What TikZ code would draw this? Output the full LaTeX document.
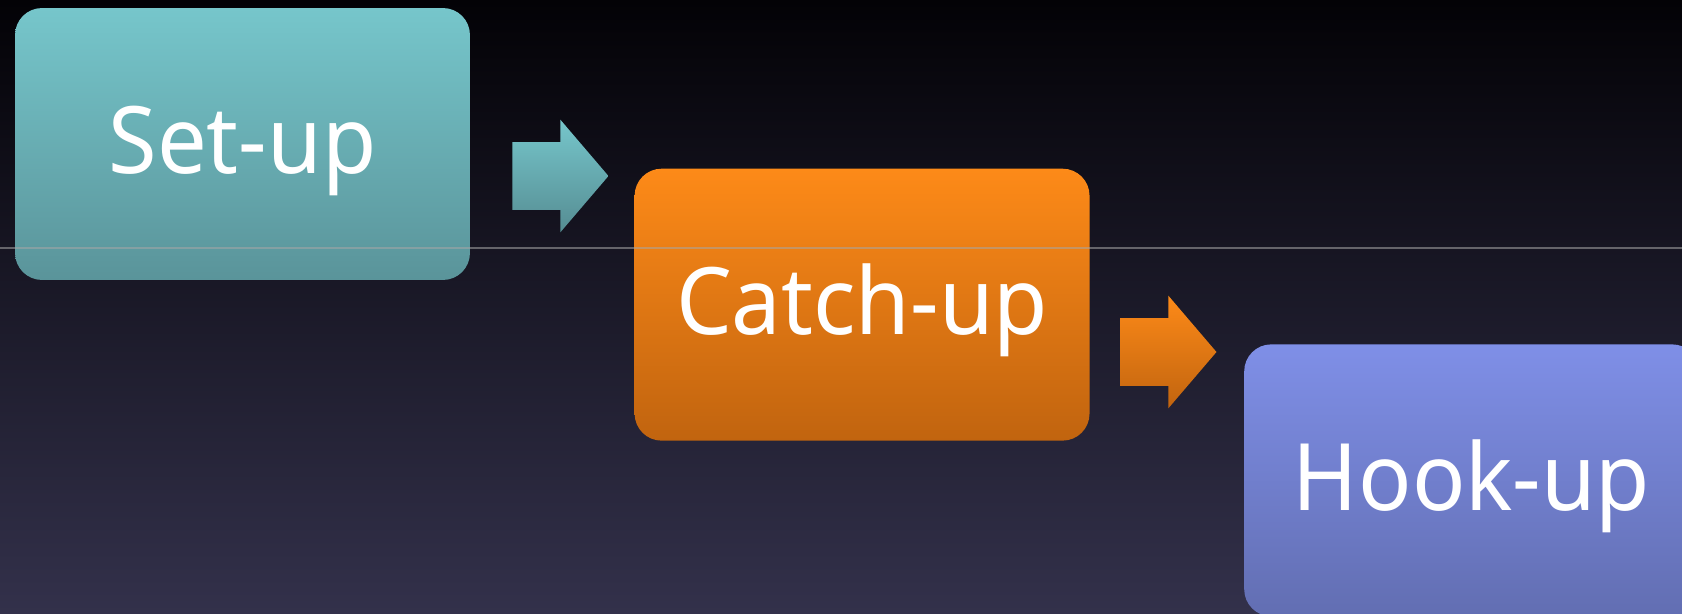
\documentclass[tikz,border=0pt]{standalone}
\usepackage{fontspec}
\setmainfont[FakeStretch=0.95]{Noto Sans}
\usetikzlibrary{positioning, shapes.arrows}
\definecolor{bgtop}{HTML}{030206}
\definecolor{bgbottom}{HTML}{33314B}
\definecolor{setuptop}{HTML}{76C6CB}
\definecolor{setupbottom}{HTML}{5A949A}
\definecolor{catchtop}{HTML}{FD8A18}
\definecolor{catchbottom}{HTML}{C1640F}
\definecolor{hooktop}{HTML}{7F8FE7}
\definecolor{hookbottom}{HTML}{626EB2}
\tikzset{
    stagebox/.style={
        rectangle, rounded corners=0.54cm, inner sep=0pt,
        minimum width=9.1cm, minimum height=5.44cm,
        text height=1.64cm, text depth=0.45cm,
        text=white, font=\fontsize{53}{60}\selectfont
    },
    steparrow/.style={
        single arrow, single arrow head extend=0.45cm, single arrow tip angle=99,
        minimum height=1.92cm, inner xsep=0pt, inner ysep=0.67cm
    },
    guideline/.style={draw=gray!70!white, line width=0.6pt, opacity=0.55}
}
\begin{document}
\begin{tikzpicture}[x=0.02cm, y=-0.02cm]
    \useasboundingbox (0,0) rectangle (1682,614);
    \clip (0,0) rectangle (1682,614);
    \shade[top color=bgtop, bottom color=bgbottom] (0,0) rectangle (1682,614);

    \node[stagebox, top color=setuptop, bottom color=setupbottom] (setup) at (242.5,144) {Set-up};
    \node[stagebox, top color=catchtop, bottom color=catchbottom, below right=-2.24cm and 3.28cm of setup] (catch) {Catch-up};
    \node[stagebox, top color=hooktop, bottom color=hookbottom, below right=-1.94cm and 3.08cm of catch] (hook) {Hook-up};

    \node[steparrow, top color=setuptop, bottom color=setupbottom!95!black] (arrowone) at (546,176) {};
    \node[steparrow, top color=catchtop, bottom color=catchbottom] (arrowtwo) at (1154,352) {};

    \coordinate (guidel) at (0,248);
    \coordinate (guider) at (1682,248);
    \draw[guideline] (guidel) -- (guider);
\end{tikzpicture}
\end{document}
